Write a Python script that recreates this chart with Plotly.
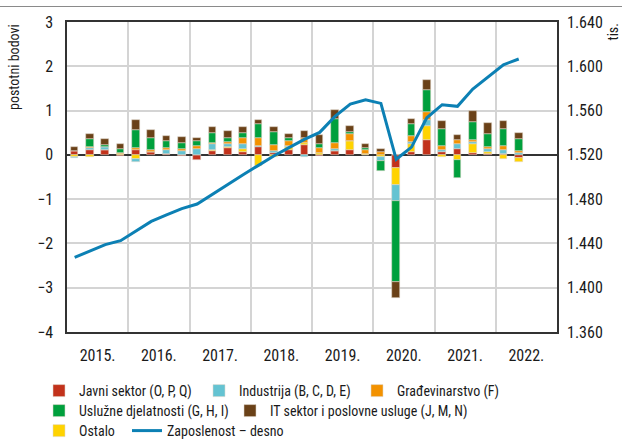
import plotly.graph_objects as go

# ---------------- data ----------------
years = [2015, 2016, 2017, 2018, 2019, 2020, 2021, 2022]
year_labels = ["2015.", "2016.", "2017.", "2018.", "2019.", "2020.", "2021.", "2022."]
# quarters 2015Q1 .. 2022Q2
period_year = [y for y in years for _ in range(4)][:30]
period_q = [1, 2, 3, 4] * 7 + [1, 2]

javni = [0.08, 0.12, 0.10, -0.02, 0.12, 0.06, 0.02, -0.03, -0.12, 0.08,
         0.15, 0.07, 0.17, 0.04, 0.10, 0.23, -0.03, 0.08, 0.11, 0.00,
         0.00, -0.29, 0.07, 0.34, 0.06, 0.13, 0.04, 0.02, 0.03, -0.07]
ostalo = [-0.04, -0.05, 0.00, 0.02, -0.10, 0.00, 0.00, 0.00, 0.00, 0.04,
          0.02, 0.07, -0.25, -0.04, 0.08, 0.03, 0.04, 0.00, 0.20, 0.02,
          -0.05, -0.38, 0.17, 0.32, -0.05, -0.12, 0.21, 0.04, -0.10, -0.08]
industrija = [-0.03, 0.03, 0.08, 0.00, -0.06, 0.00, 0.10, 0.09, 0.13, 0.13,
              0.08, 0.11, 0.03, 0.05, 0.03, -0.04, 0.00, 0.05, 0.00, 0.00,
              -0.08, -0.37, 0.05, 0.12, 0.06, 0.11, 0.04, 0.08, 0.08, 0.05]
gradjevinarstvo = [0.00, 0.02, 0.00, 0.03, 0.04, 0.05, 0.04, 0.05, 0.07, 0.01,
                   0.05, 0.14, 0.19, 0.13, 0.11, 0.12, 0.12, 0.14, 0.15, 0.10,
                   0.07, 0.00, 0.13, 0.18, 0.08, 0.09, 0.05, 0.03, 0.09, 0.03]
usluzne = [0.00, 0.19, 0.05, 0.09, 0.41, 0.28, 0.16, 0.13, 0.12, 0.24,
           0.09, 0.10, 0.30, 0.30, 0.05, 0.00, 0.08, 0.55, 0.05, 0.03,
           -0.24, -1.83, 0.27, 0.51, 0.39, -0.41, 0.41, 0.29, 0.38, 0.28]
it_sektor = [0.10, 0.12, 0.13, 0.10, 0.22, 0.18, 0.11, 0.13, 0.07, 0.13,
             0.14, 0.13, 0.10, 0.10, 0.11, 0.15, 0.21, 0.20, 0.14, 0.10,
             0.06, -0.36, 0.13, 0.23, 0.18, 0.12, 0.23, 0.26, 0.18, 0.13]
zaposlenost = [1427.4, 1433.4, 1438.9, 1442.5, 1451.5, 1459.9, 1465.7, 1471.4,
               1475.6, 1484.6, 1492.8, 1502.1, 1510.5, 1519.0, 1526.5, 1534.0,
               1540.3, 1554.7, 1565.9, 1569.8, 1566.5, 1516.0, 1527.0, 1553.5,
               1565.3, 1563.8, 1579.5, 1590.3, 1601.4, 1606.6]

left_ticks = [-4, -3, -2, -1, 0, 1, 2, 3]
right_ticks = [1360, 1400, 1440, 1480, 1520, 1560, 1600, 1640]

# x position = middle of the quarter on a continuous year axis
x = [y + (q - 0.5) / 4 for y, q in zip(period_year, period_q)]

FONT = "Liberation Sans Narrow, Arial Narrow, Roboto Condensed, Liberation Sans, sans-serif"
TXT = "#1a1a1a"

W, H = 622, 441
ml, mr, mt, mb = 67, 65, 22, 109
pw, ph = W - ml - mr, H - mt - mb


def px_x(p):
    return (p - ml) / pw


def px_y(p):
    return (H - mb - p) / ph


# stacking order (bottom -> top); each legend entry placed on its own
# (name, values, colour, legend id, text-x px, row-centre-y px)
series = [
    ("Javni sektor (O, P, Q)", javni, "#C2321B", "legend", 77, 391),
    ("Ostalo", ostalo, "#FFD300", "legend6", 77, 431),
    ("Industrija (B, C, D, E)", industrija, "#64C3D2", "legend2", 237, 391),
    ("Građevinarstvo (F)", gradjevinarstvo, "#F39200", "legend3", 395, 391),
    ("Uslužne djelatnosti (G, H, I)", usluzne, "#00A03D", "legend4", 77, 411),
    ("IT sektor i poslovne usluge (J, M, N)", it_sektor, "#6A4118", "legend5", 268, 411),
]

fig = go.Figure()
legends = {}
for name, vals, col, lg, tx, ty in series:
    fig.add_trace(go.Bar(
        x=x, y=vals, name=name, width=0.125,
        marker=dict(color=col, line=dict(width=0.6, color="rgba(225,215,205,0.9)")),
        legend=lg,
    ))
    legends[lg] = (tx, ty)

fig.add_trace(go.Scatter(
    x=x, y=zaposlenost, name="Zaposlenost – desno", yaxis="y2",
    mode="lines", line=dict(color="#0C80B4", width=3),
    legend="legend7",
))
legends["legend7"] = (165, 431)

grid = "#d4d4d4"
axcol = "#333333"

legend_layout = {}
for lg, (tx, ty) in legends.items():
    legend_layout[lg] = dict(
        orientation="h", xanchor="left", yanchor="middle",
        x=px_x(tx - 38), y=px_y(ty),
        font=dict(family=FONT, size=14, color=TXT),
        bgcolor="rgba(0,0,0,0)", borderwidth=0,
    )

fig.update_layout(
    width=W, height=H,
    margin=dict(l=ml, r=mr, t=mt, b=mb, autoexpand=False),
    paper_bgcolor="white", plot_bgcolor="white",
    barmode="relative", bargap=0,
    separators=",.",
    font=dict(family=FONT, size=15, color=TXT),
    xaxis=dict(
        range=[2015, 2023],
        tickmode="array",
        tickvals=[y + 0.5 for y in years],
        ticktext=year_labels,
        showgrid=False, zeroline=False,
        ticks="", ticklabelstandoff=8,
        tickfont=dict(family=FONT, size=16, color=TXT),
        showline=True, linecolor=axcol, linewidth=1.5, mirror=True,
        minor=dict(tickmode="array", tickvals=years[1:], showgrid=True,
                   gridcolor=grid, gridwidth=1.5, ticks=""),
    ),
    yaxis=dict(
        range=[-4, 3], tickmode="array", tickvals=left_ticks,
        showgrid=True, gridcolor=grid, gridwidth=1.5,
        zeroline=True, zerolinecolor=axcol, zerolinewidth=1.5,
        ticks="", ticklabelstandoff=9,
        tickfont=dict(family=FONT, size=16, color=TXT),
        showline=True, linecolor=axcol, linewidth=1.5, mirror=True,
    ),
    yaxis2=dict(
        range=[1360, 1640], tickmode="array", tickvals=right_ticks,
        tickformat=",d", overlaying="y", side="right",
        showgrid=False, zeroline=False, ticks="", ticklabelstandoff=9,
        tickfont=dict(family=FONT, size=16, color=TXT),
        showline=False,
    ),
    showlegend=True,
    annotations=[
        dict(text="postotni bodovi", xref="paper", yref="paper",
             x=px_x(14), y=1, xanchor="center", yanchor="top",
             textangle=-90, showarrow=False,
             font=dict(family=FONT, size=14, color=TXT)),
        dict(text="tis.", xref="paper", yref="paper",
             x=px_x(612), y=1, xanchor="center", yanchor="top",
             textangle=-90, showarrow=False,
             font=dict(family=FONT, size=14, color=TXT)),
    ],
    shapes=[
        dict(type="line", xref="paper", yref="paper",
             x0=px_x(0), x1=px_x(W), y0=px_y(6.5), y1=px_y(6.5),
             line=dict(color="#8a8a8a", width=1.2)),
    ],
    **legend_layout,
)

fig.write_html(
    "out.html",
    config={"displayModeBar": False},
    post_script="document.body.style.margin='0px';document.body.style.padding='0px';document.body.style.overflow='hidden';",
)
